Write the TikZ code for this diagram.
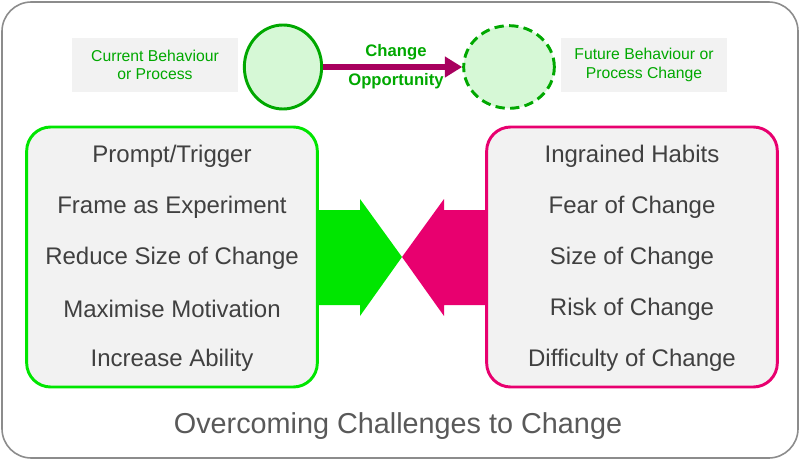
\documentclass[tikz,border=0pt]{standalone}
\usepackage{fontspec}
\setmainfont{Liberation Sans}
\usetikzlibrary{positioning}
\usetikzlibrary{arrows.meta}
\usetikzlibrary{shapes.geometric}
\usetikzlibrary{calc}
\definecolor{grn}{HTML}{00A800}
\definecolor{lgrn}{HTML}{D6F8D6}
\definecolor{brgrn}{HTML}{00E600}
\definecolor{pnk}{HTML}{E8006F}
\definecolor{plum}{HTML}{A8005E}
\definecolor{pale}{HTML}{F2F2F2}
\tikzset{
  labelbox/.style={fill=pale,text=grn,align=center,font=\fontsize{11.8}{14}\selectfont,minimum width=124pt,minimum height=40pt},
  itembox/.style={fill=pale,rounded corners=18pt,line width=2.2pt,minimum width=218pt,minimum height=195pt},
  item/.style={text=black!75,font=\fontsize{18}{21}\selectfont}
}
\begin{document}
\begin{tikzpicture}[x=0.75pt,y=-0.75pt]
  \useasboundingbox (0,0) rectangle (800,460);
  \draw[black!45,line width=1.2pt,rounded corners=22pt] (2,2) rectangle (798,458);

  % top row
  \node (curLbl) at (155,65) [labelbox] {Current Behaviour\\or Process};
  \node (futLbl) at (644,65) [labelbox] {Future Behaviour or\\Process Change};
  \node (cur) at (283,67) [draw=grn,fill=lgrn,ellipse,line width=2.2pt,minimum width=58pt,minimum height=63pt] {};
  \node (fut) at (509,67) [draw=grn,fill=lgrn,ellipse,line width=2.2pt,dash pattern=on 7pt off 4pt,minimum width=68pt,minimum height=62pt] {};
  \draw[-{Triangle[length=13pt,width=15pt]},plum,line width=4.5pt] (cur) -- (fut);
  \node[above=0pt of $(cur)!0.5!(fut)$,yshift=2pt,text=grn,font=\bfseries\fontsize{12.5}{15}\selectfont] (chg) {Change};
  \node[below=0pt of $(cur)!0.5!(fut)$,yshift=-1pt,text=grn,font=\bfseries\fontsize{12.5}{15}\selectfont] (opp) {Opportunity};

  % boxes
  \node (enable) at (172,257) [itembox,draw=brgrn] {};
  \node (resist) at (632,257) [itembox,draw=pnk] {};
  \foreach \t [count=\i] in {Prompt/Trigger,Frame as Experiment,Reduce Size of Change,Maximise Motivation,Increase Ability}
    \node[item] (en\i) at (172,105+51*\i) {\t};
  \foreach \t [count=\i] in {Ingrained Habits,Fear of Change,Size of Change,Risk of Change,Difficulty of Change}
    \node[item] (re\i) at (632,105+51*\i) {\t};

  % arrows
  \fill[brgrn] (enable.east |- 0,210) -- (360,210) -- (360,199) -- (402,257) -- (360,316) -- (360,305) -- (enable.east |- 0,305) -- cycle;
  \fill[pnk] (resist.west |- 0,210) -- (444,210) -- (444,199) -- (402,257) -- (444,316) -- (444,305) -- (resist.west |- 0,305) -- cycle;

  \node (title) at (398,426) [text=black!65,font=\fontsize{21.6}{26}\selectfont] {Overcoming Challenges to Change};
\end{tikzpicture}
\end{document}
